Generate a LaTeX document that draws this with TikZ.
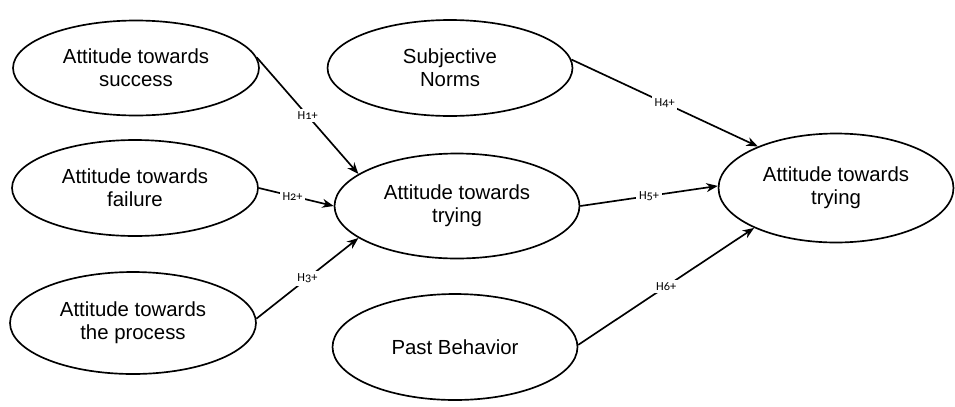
\documentclass[tikz,border=0pt]{standalone}
\usepackage{fontspec}
\setmainfont{Liberation Sans}
\newfontfamily\hfont[Numbers=OldStyle]{Carlito}
\usetikzlibrary{shapes.geometric,arrows.meta}

\begin{document}
\begin{tikzpicture}[x=0.02cm,y=-0.02cm,line width=0.95pt]
            \tikzset{latent/.style 2 args={draw, ellipse, inner sep=0pt, minimum width=#1, minimum height=#2, align=center, font=\fontsize{11.6}{13.2}\selectfont}};
            \tikzset{hyp/.style={fill=white, inner sep=1.5pt, font=\hfont\fontsize{7}{8}\selectfont}};
            \tikzset{path/.style={-{Stealth[length=2.3mm,width=1.8mm]}}};
            \useasboundingbox (0,0) rectangle (955,406);
            
            \node[latent={4.92cm}{1.9cm}] (succ) at (136,68) {Attitude towards\\success};
            \node[latent={4.92cm}{1.92cm}] (fail) at (135,188) {Attitude towards\\failure};
            \node[latent={4.92cm}{2.04cm}] (proc) at (133,323) {Attitude towards\\the process};
            \node[latent={4.9cm}{1.92cm}] (norm) at (450,68) {Subjective\\Norms};
            \node[latent={4.9cm}{2.1cm}] (try) at (457,206) {Attitude towards\\trying};
            \node[latent={4.9cm}{2.12cm}] (past) at (455,347) {Past Behavior};
            \node[latent={4.7cm}{2.18cm}] (out) at (836,188) {Attitude towards\\trying};
            
            \draw[path] (succ.5)--(try.162) node[hyp,midway] (h1) {H1+};
            \draw[path] (fail.0)--(try.180) node[hyp,pos=0.45] (h2) {H2+};
            \draw[path] (proc.2)--(try.198) node[hyp,midway] (h3) {H3+};
            \draw[path] (norm.4)--(out.152) node[hyp,midway] (h4) {H4+};
            \draw[path] (try.0)--(out.179) node[hyp,midway] (h5) {H5+};
            \draw[path] (past.1)--(out.206) node[hyp,midway] (h6) {H6+};
        \end{tikzpicture}
\end{document}
